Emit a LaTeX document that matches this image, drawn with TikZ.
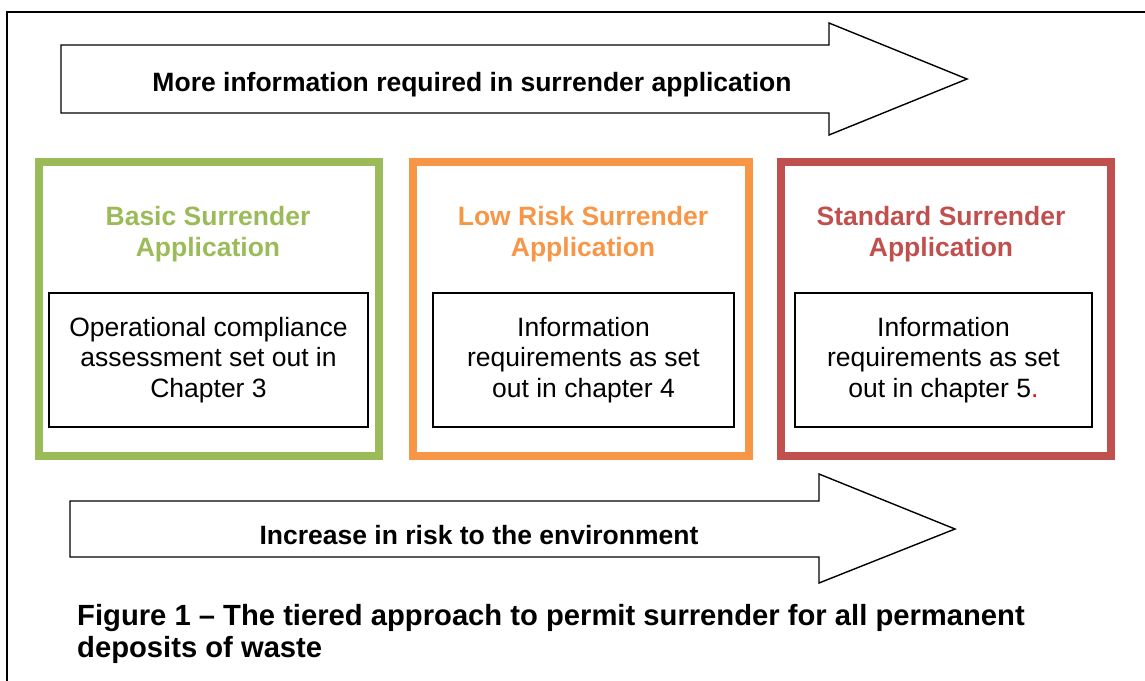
\documentclass[tikz,border=0pt]{standalone}
\usepackage{fontspec}
\setmainfont{Liberation Sans}
\usepackage{tikz}

\definecolor{tiergreen}{HTML}{9BBB59}
\definecolor{tierorange}{HTML}{F79646}
\definecolor{tierred}{HTML}{C0504D}

\begin{document}
\begin{tikzpicture}[x=1pt,y=-1pt,
    tierbox/.style={draw,line width=8pt,minimum height=293.5pt,inner sep=0pt},
    tiertitle/.style={align=center,inner sep=0pt,
      font=\fontsize{26.5}{31}\selectfont\bfseries},
    infobox/.style={draw,line width=1.5pt,minimum height=134pt,inner sep=0pt,
      align=center,font=\fontsize{26.5}{30.5}\selectfont},
    bandarrow/.style={draw,line width=1.4pt,line join=miter},
    arrowtext/.style={anchor=base,inner sep=0pt,
      font=\fontsize{26.5}{31}\selectfont\bfseries}]
    \useasboundingbox (0,0) rectangle (1145,680);
    \clip (0,0) rectangle (1145,680);

    % Outer frame (runs off the right and bottom edges)
    \draw[line width=1.5pt] (7,700) -- (7,12) -- (1160,12);

    % Top band arrow
    \draw[bandarrow] (61,45) -- (829,45) -- (829,23) -- (967,79)
      -- (829,135) -- (829,113) -- (61,113) -- cycle;
    \node[arrowtext] (moreinfo) at (472,91)
      {More information required in surrender application};

    % Tier boxes
    \node[tierbox,draw=tiergreen,minimum width=340pt] (basic) at (209,308.75) {};
    \node[tierbox,draw=tierorange,minimum width=336pt] (lowrisk) at (581,308.75) {};
    \node[tierbox,draw=tierred,minimum width=330pt] (standard) at (946,308.75) {};

    % Tier titles
    \node[tiertitle,text=tiergreen] (basictitle) at (208,234.5)
      {Basic Surrender\\Application};
    \node[tiertitle,text=tierorange] (lowrisktitle) at (583,234.5)
      {Low Risk Surrender\\Application};
    \node[tiertitle,text=tierred] (standardtitle) at (941,234.5)
      {Standard Surrender\\Application};

    % Information boxes
    \node[infobox,minimum width=319pt] (basicinfo) at (208.5,360)
      {Operational compliance\\assessment set out in\\Chapter 3};
    \node[infobox,minimum width=301pt] (lowriskinfo) at (583.5,360)
      {Information\\requirements as set\\out in chapter 4};
    \node[infobox,minimum width=297pt] (standardinfo) at (943.5,360)
      {Information\\requirements as set\\out in chapter 5\textcolor{red}{.}};

    % Bottom band arrow
    \draw[bandarrow] (70,501) -- (819,501) -- (819,474) -- (955,529)
      -- (819,583) -- (819,557) -- (70,557) -- cycle;
    \node[arrowtext] (riskup) at (479,544)
      {Increase in risk to the environment};

    % Caption
    \node[anchor=west,align=left,inner sep=0pt,
      font=\fontsize{29.2}{32}\selectfont\bfseries] (caption) at (77,633.5)
      {Figure 1 -- The tiered approach to permit surrender for all permanent\\deposits of waste};

  \end{tikzpicture}
\end{document}
